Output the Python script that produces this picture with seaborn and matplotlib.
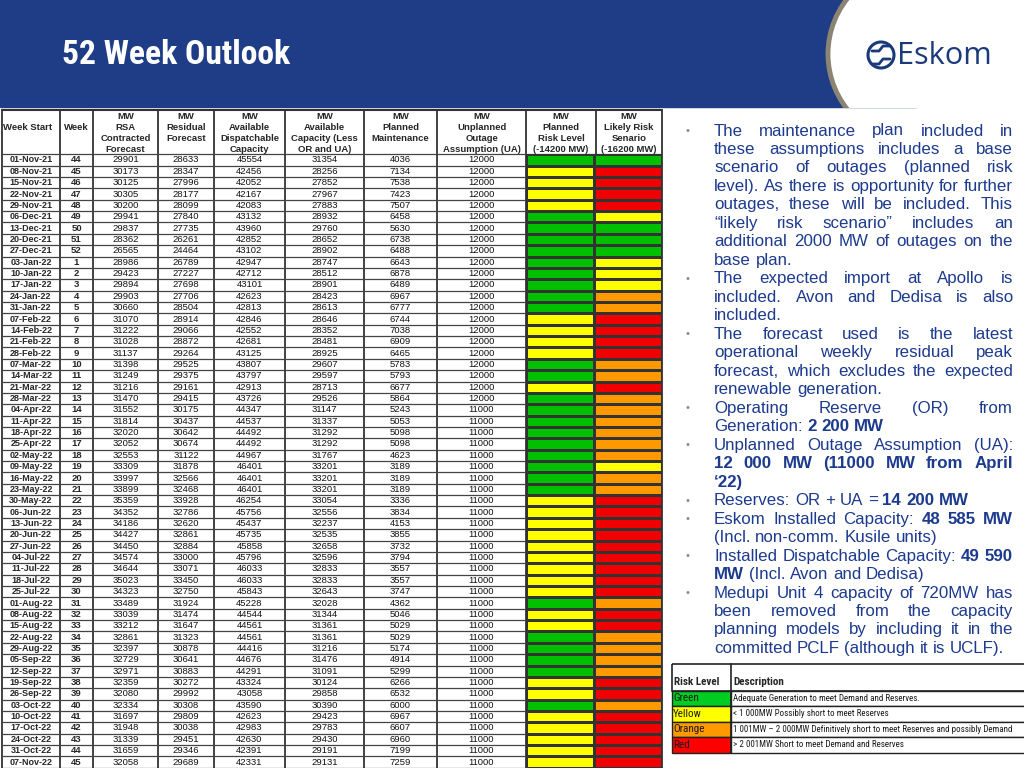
# 52 week outlook slide - table of weekly capacity numbers with risk colours
import numpy as np
import pandas as pd
import seaborn as sns
import matplotlib.pyplot as plt
from matplotlib import patches, font_manager
from matplotlib.colors import ListedColormap

# Data --------------------------------------------------------------
week_start = ['01-Nov-21', '08-Nov-21', '15-Nov-21', '22-Nov-21', '29-Nov-21', '06-Dec-21',
              '13-Dec-21', '20-Dec-21', '27-Dec-21', '03-Jan-22', '10-Jan-22', '17-Jan-22',
              '24-Jan-22', '31-Jan-22', '07-Feb-22', '14-Feb-22', '21-Feb-22', '28-Feb-22',
              '07-Mar-22', '14-Mar-22', '21-Mar-22', '28-Mar-22', '04-Apr-22', '11-Apr-22',
              '18-Apr-22', '25-Apr-22', '02-May-22', '09-May-22', '16-May-22', '23-May-22',
              '30-May-22', '06-Jun-22', '13-Jun-22', '20-Jun-22', '27-Jun-22', '04-Jul-22',
              '11-Jul-22', '18-Jul-22', '25-Jul-22', '01-Aug-22', '08-Aug-22', '15-Aug-22',
              '22-Aug-22', '29-Aug-22', '05-Sep-22', '12-Sep-22', '19-Sep-22', '26-Sep-22',
              '03-Oct-22', '10-Oct-22', '17-Oct-22', '24-Oct-22', '31-Oct-22', '07-Nov-22']
week_no = [44, 45, 46, 47, 48, 49, 50, 51, 52, 1, 2, 3, 4, 5, 6, 7, 8, 9, 10, 11, 12, 13,
           14, 15, 16, 17, 18, 19, 20, 21, 22, 23, 24, 25, 26, 27, 28, 29, 30, 31, 32, 33,
           34, 35, 36, 37, 38, 39, 40, 41, 42, 43, 44, 45]
rsa_forecast = [29901, 30173, 30125, 30305, 30200, 29941, 29837, 28362, 26565, 28986,
                29423, 29894, 29903, 30660, 31070, 31222, 31028, 31137, 31398, 31249,
                31216, 31470, 31552, 31814, 32020, 32052, 32553, 33309, 33997, 33899,
                35359, 34352, 34186, 34427, 34450, 34574, 34644, 35023, 34323, 33489,
                33039, 33212, 32861, 32397, 32729, 32971, 32359, 32080, 32334, 31697,
                31948, 31339, 31659, 32058]
residual_forecast = [28633, 28347, 27996, 28177, 28099, 27840, 27735, 26261, 24464, 26789,
                     27227, 27698, 27706, 28504, 28914, 29066, 28872, 29264, 29525, 29375,
                     29161, 29415, 30175, 30437, 30642, 30674, 31122, 31878, 32566, 32468,
                     33928, 32786, 32620, 32861, 32884, 33000, 33071, 33450, 32750, 31924,
                     31474, 31647, 31323, 30878, 30641, 30883, 30272, 29992, 30308, 29809,
                     30038, 29451, 29346, 29689]
avail_dispatchable = [45554, 42456, 42052, 42167, 42083, 43132, 43960, 42852, 43102, 42947,
                      42712, 43101, 42623, 42813, 42846, 42552, 42681, 43125, 43807, 43797,
                      42913, 43726, 44347, 44537, 44492, 44492, 44967, 46401, 46401, 46401,
                      46254, 45756, 45437, 45735, 45858, 45796, 46033, 46033, 45843, 45228,
                      44544, 44561, 44561, 44416, 44676, 44291, 43324, 43058, 43590, 42623,
                      42983, 42630, 42391, 42331]
avail_capacity = [31354, 28256, 27852, 27967, 27883, 28932, 29760, 28652, 28902, 28747,
                  28512, 28901, 28423, 28613, 28646, 28352, 28481, 28925, 29607, 29597,
                  28713, 29526, 31147, 31337, 31292, 31292, 31767, 33201, 33201, 33201,
                  33054, 32556, 32237, 32535, 32658, 32596, 32833, 32833, 32643, 32028,
                  31344, 31361, 31361, 31216, 31476, 31091, 30124, 29858, 30390, 29423,
                  29783, 29430, 29191, 29131]
planned_maint = [4036, 7134, 7538, 7423, 7507, 6458, 5630, 6738, 6488, 6643,
                 6878, 6489, 6967, 6777, 6744, 7038, 6909, 6465, 5783, 5793,
                 6677, 5864, 5243, 5053, 5098, 5098, 4623, 3189, 3189, 3189,
                 3336, 3834, 4153, 3855, 3732, 3794, 3557, 3557, 3747, 4362,
                 5046, 5029, 5029, 5174, 4914, 5299, 6266, 6532, 6000, 6967,
                 6607, 6960, 7199, 7259]
unplanned_outage = [12000, 12000, 12000, 12000, 12000, 12000, 12000, 12000, 12000, 12000,
                    12000, 12000, 12000, 12000, 12000, 12000, 12000, 12000, 12000, 12000,
                    12000, 12000, 11000, 11000, 11000, 11000, 11000, 11000, 11000, 11000,
                    11000, 11000, 11000, 11000, 11000, 11000, 11000, 11000, 11000, 11000,
                    11000, 11000, 11000, 11000, 11000, 11000, 11000, 11000, 11000, 11000,
                    11000, 11000, 11000, 11000]
# G = green, Y = yellow, O = orange, R = red
planned_risk = list('GYYYYGGGGG' 'GGGGYYYYGG' 'YGGGGGGGGG' 'YYYYYYYYYG' 'YYGGGGYYGY' 'YYYY')
likely_risk = list('GRRRRYGGGY' 'YYOORRRROO' 'ROOOOOOYOO' 'RRRRRRRRRO' 'RROOOORROR' 'RRRR')

header_lines = [['Week Start'], ['Week'], ['RSA', 'Contracted', 'Forecast'],
                ['Residual', 'Forecast'], ['Available', 'Dispatchable', 'Capacity'],
                ['Available', 'Capacity (Less', 'OR and UA)'], ['Planned', 'Maintenance'],
                ['Unplanned', 'Outage', 'Assumption (UA)'],
                ['Planned', 'Risk Level', '(-14200 MW)'], ['Likely Risk', 'Senario', '(-16200 MW)']]

risk_levels = ['Green', 'Yellow', 'Orange', 'Red']
risk_desc = ['Adequate Generation to meet Demand and Reserves.',
             '< 1 000MW Possibly short to meet Reserves',
             '1 001MW \u2013 2 000MW Definitively short to meet Reserves and possibly Demand',
             '> 2 001MW Short to meet Demand and Reserves']

# bullet text: paragraphs -> lines -> (text, bold) pieces
bullets = [
    [[('The maintenance plan included in', False)],
     [('these assumptions includes a base', False)],
     [('scenario of outages (planned risk', False)],
     [('level). As there is opportunity for further', False)],
     [('outages, these will be included. This', False)],
     [('\u201clikely risk scenario\u201d includes an', False)],
     [('additional 2000 MW of outages on the', False)],
     [('base plan.', False)]],
    [[('The expected import at Apollo is', False)],
     [('included. Avon and Dedisa is also', False)],
     [('included.', False)]],
    [[('The forecast used is the latest', False)],
     [('operational weekly residual peak', False)],
     [('forecast, which excludes the expected', False)],
     [('renewable generation.', False)]],
    [[('Operating Reserve (OR) from', False)],
     [('Generation:', False), ('2 200 MW', True)]],
    [[('Unplanned Outage Assumption (UA):', False)],
     [('12 000 MW (11000 MW from April', True)],
     [('\u201822)', True)]],
    [[('Reserves: OR + UA =', False), ('14 200 MW', True)]],
    [[('Eskom Installed Capacity:', False), ('48 585 MW', True)],
     [('(Incl. non-comm. Kusile units)', False)]],
    [[('Installed Dispatchable Capacity:', False), ('49 590', True)],
     [('MW', True), ('(Incl. Avon and Dedisa)', False)]],
    [[('Medupi Unit 4 capacity of 720MW has', False)],
     [('been removed from the capacity', False)],
     [('planning models by including it in the', False)],
     [('committed PCLF (although it is UCLF).', False)]],
]

df = pd.DataFrame({'week_start': week_start, 'week': week_no, 'rsa': rsa_forecast,
                   'residual': residual_forecast, 'dispatchable': avail_dispatchable,
                   'capacity': avail_capacity, 'planned': planned_maint,
                   'unplanned': unplanned_outage})
risk_map = {'G': 0, 'Y': 1, 'O': 2, 'R': 3}
risk_df = pd.DataFrame({'planned': [risk_map[c] for c in planned_risk],
                        'likely': [risk_map[c] for c in likely_risk]})


def find_narrow():
    # look for a narrow / condensed sans face, fall back to plain Liberation Sans
    for fam in ['Liberation Sans Narrow', 'Arial Narrow', 'DejaVu Sans Condensed',
                'Roboto Condensed', 'Open Sans Condensed', 'Noto Sans Condensed']:
        try:
            font_manager.findfont(font_manager.FontProperties(family=fam), fallback_to_default=False)
            return {'family': fam}
        except ValueError:
            pass
    for fam in ['Noto Sans', 'DejaVu Sans', 'Open Sans', 'Roboto']:
        path = font_manager.findfont(font_manager.FontProperties(family=fam, stretch='condensed'))
        if 'ondensed' in path or 'arrow' in path:
            return {'family': fam, 'fontstretch': 'condensed'}
    return {'family': 'Liberation Sans'}


sns.set_theme(style='white')
plt.rcParams['font.family'] = ['Liberation Sans', 'DejaVu Sans']
NARROW = find_narrow()

BLUE = '#1f3d87'
TEXT_BLUE = '#1c3a8e'
GRID = '#333333'
risk_colors = ['#00c000', '#ffff00', '#ff9900', '#f00000']
legend_colors = ['#00cc22', '#ffff00', '#ff9900', '#ff0000']

fig = plt.figure(figsize=(10.24, 7.68), dpi=100)
ax = fig.add_axes([0, 0, 1, 1])
ax.set_xlim(0, 1024)
ax.set_ylim(768, 0)
ax.axis('off')
renderer = fig.canvas.get_renderer()


def fit_width(t, width):
    w = t.get_window_extent(renderer).width
    t.set_fontsize(t.get_fontsize() * width / w)


# Header band + logo ------------------------------------------------
band_h = 107
ax.add_patch(patches.Rectangle((0, 0), 1024, band_h, color=BLUE, zorder=1))
clip = patches.Rectangle((0, -2), 1024, band_h + 3, transform=ax.transData)
circ = patches.Circle((917, 54), 89, facecolor='white', edgecolor='#8c8472', lw=3.5, zorder=2)
ax.add_patch(circ)
circ.set_clip_path(clip)
ax.add_patch(patches.Rectangle((917, -2), 110, band_h + 4, color='white', zorder=3))

title = ax.text(62, 55, '52 Week Outlook', color='white', fontweight='bold', fontsize=22,
                va='center', ha='left', zorder=4, **NARROW)
fit_width(title, 228)

# Eskom logo (rough)
ax.add_patch(patches.Circle((881, 55), 13, fill=False, edgecolor='#1b3a7a', lw=2.2, zorder=4))
ax.plot([872, 879, 883, 890], [51, 51, 46, 46], color='#1b3a7a', lw=2, zorder=4)
ax.plot([872, 879, 883, 890], [64, 64, 59, 59], color='#1b3a7a', lw=2, zorder=4)
logo = ax.text(897, 56, 'Eskom', color='#1b3a7a', fontsize=22, va='center', ha='left',
               family='Open Sans', zorder=4)
fit_width(logo, 95)

# Table -------------------------------------------------------------
col_edges = [2, 60, 93, 158, 214, 285, 364, 437, 526, 596, 662]
head_top = 110
body_top = 154.3
row_h = 11.36
nrows = len(df)
body_bottom = body_top + nrows * row_h
centers = [(a + b) / 2 for a, b in zip(col_edges[:-1], col_edges[1:])]

# header text
for j, lines in enumerate(header_lines):
    if j >= 2:
        ax.text(centers[j], 116.5, 'MW', ha='center', va='center', fontsize=6.8, fontweight='bold')
    for k, line in enumerate(lines):
        y = 127.5 + k * 11
        if j == 0:
            ax.text(3, y, line, ha='left', va='center', fontsize=6.8, fontweight='bold')
        else:
            ax.text(centers[j], y, line, ha='center', va='center', fontsize=6.8, fontweight='bold')

# body text
value_cols = ['rsa', 'residual', 'dispatchable', 'capacity', 'planned', 'unplanned']
for i, row in df.iterrows():
    y = body_top + (i + 0.5) * row_h
    ax.text(centers[0], y, row['week_start'], ha='center', va='center', fontsize=6.5, fontweight='bold')
    ax.text(centers[1], y, str(row['week']), ha='center', va='center', fontsize=6.8, fontweight='bold')
    for j, c in enumerate(value_cols):
        ax.text(centers[j + 2], y, str(row[c]), ha='center', va='center', fontsize=6.8, color='#111111')

# grid lines
for x in col_edges:
    ax.plot([x, x], [head_top, body_bottom], color=GRID, lw=1.3, zorder=5)
ax.plot([col_edges[0], col_edges[-1]], [head_top, head_top], color=GRID, lw=1.5, zorder=5)
for i in range(nrows + 1):
    y = body_top + i * row_h
    ax.plot([col_edges[0], col_edges[-1]], [y, y], color='#444444', lw=0.9, zorder=5)

# risk colour columns as a heatmap
hax = fig.add_axes([col_edges[8] / 1024, (768 - body_bottom) / 768,
                    (col_edges[10] - col_edges[8]) / 1024, (body_bottom - body_top) / 768])
sns.heatmap(risk_df, ax=hax, cmap=ListedColormap(risk_colors), vmin=-0.5, vmax=3.5,
            cbar=False, linewidths=1.0, linecolor=GRID, xticklabels=False, yticklabels=False)
hax.tick_params(left=False, bottom=False)

# Bullet text -------------------------------------------------------
FS = 12.2
x_left, x_right = 714, 1013
line_y = 131
line_step = 18.48


def draw_line(pieces, y, justify):
    words = []
    for txt, bold in pieces:
        for w in txt.split():
            words.append((w, bold))
    arts = [ax.text(0, y, w, fontsize=FS, color=TEXT_BLUE, va='center', ha='left',
                    fontweight='bold' if b else 'normal') for w, b in words]
    widths = [a.get_window_extent(renderer).width for a in arts]
    space = FS * 100 / 72 * 0.278
    if justify and len(arts) > 1:
        gap = (x_right - x_left - sum(widths)) / (len(arts) - 1)
        gap = max(gap, 0.6 * space)
    else:
        gap = space
    x = x_left
    for a, w in zip(arts, widths):
        a.set_x(x)
        x += w + gap


for para in bullets:
    ax.text(688, line_y, '\u2022', fontsize=8, color='#8a8a8a', va='center', ha='center')
    for k, pieces in enumerate(para):
        draw_line(pieces, line_y, justify=(k < len(para) - 1))
        line_y += line_step

# Legend table ------------------------------------------------------
lx0, ldiv, lx1 = 672, 731, 1030
ly_top, ly_head = 664, 690.5
lrow_h = 15.5
ax.add_patch(patches.Rectangle((lx0, ly_top), lx1 - lx0, ly_head - ly_top, fill=False,
                               edgecolor='#222222', lw=1.2))
ax.plot([ldiv, ldiv], [ly_top, ly_head + lrow_h * len(risk_levels)], color='#222222', lw=1.2)
ax.text(lx0 + 2, 682, 'Risk Level', fontsize=8, fontweight='bold', va='center', **NARROW)
ax.text(ldiv + 2, 682, 'Description', fontsize=8, fontweight='bold', va='center', **NARROW)
desc_arts = []
for k, (lvl, desc) in enumerate(zip(risk_levels, risk_desc)):
    y0 = ly_head + k * lrow_h
    ax.add_patch(patches.Rectangle((lx0, y0), ldiv - lx0, lrow_h, facecolor=legend_colors[k],
                                   edgecolor='#222222', lw=1.0))
    ax.add_patch(patches.Rectangle((ldiv, y0), lx1 - ldiv, lrow_h, facecolor='white',
                                   edgecolor='#222222', lw=1.0))
    ax.text(lx0 + 1, y0 + lrow_h / 2, lvl, fontsize=8, va='center', color='#1a1a1a', **NARROW)
    desc_arts.append(ax.text(ldiv + 2, y0 + lrow_h / 2, desc, fontsize=8, va='center',
                             color='#1a1a1a', **NARROW))
fit_width(desc_arts[2], 279)
for a in desc_arts:
    a.set_fontsize(desc_arts[2].get_fontsize())

fig.savefig('out.png', dpi=100)
plt.close(fig)
